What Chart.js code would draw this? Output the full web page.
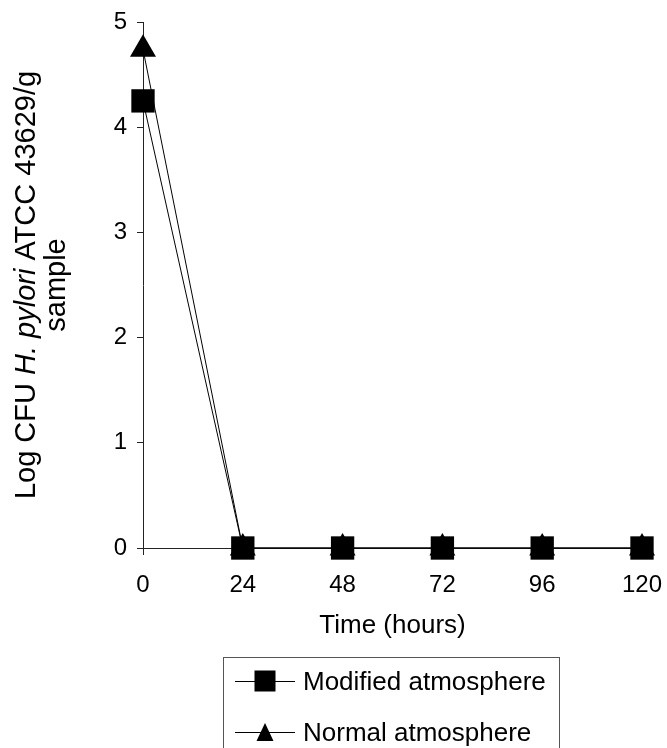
<!DOCTYPE html>
<html>
<head>
<meta charset="utf-8">
<script src="https://cdn.jsdelivr.net/npm/chart.js@4/dist/chart.umd.min.js"></script>
<style>
  html, body { margin: 0; padding: 0; background: #fff; }
  #wrap { position: relative; width: 667px; height: 748px; overflow: hidden; }
  #legendBox {
    position: absolute; left: 223px; top: 657px; width: 337px; height: 120px;
    border: 1px solid #555; box-sizing: border-box;
    font-family: "Liberation Sans", Arial, sans-serif; font-size: 26px; color: #000;
  }
  .row { position: absolute; left: 11px; height: 40px; display: flex; align-items: center; white-space: nowrap; }
  .row span { margin-left: 8px; }
</style>
</head>
<body>
<div id="wrap">
  <canvas id="myChart" width="667" height="748"></canvas>
  <div id="legendBox"></div>
</div>
<script>
'use strict';

// time points (hours) and the two series, log CFU/g
var hours = [0, 24, 48, 72, 96, 120];
var modified = [4.25, 0, 0, 0, 0, 0];
var normal = [4.74, 0, 0, 0, 0, 0];
var seriesNames = ['Modified atmosphere', 'Normal atmosphere'];
var yTicks = [0, 1, 2, 3, 4, 5];
var xTitle = 'Time (hours)';
// y title pieces: [text, italic?]
var yTitleLine1 = [['Log CFU ', false], ['H. pylori', true], [' ATCC 43629/g', false]];
var yTitleLine2 = 'sample';

var FONT = '"Liberation Sans", Arial, sans-serif';

function toPoints(xs, ys) {
	var pts = [];
	for (var i = 0; i < xs.length; i++) {
		pts.push({x: xs[i], y: ys[i]});
	}
	return pts;
}

// draw the rotated two-line y axis title (needs italic in the middle)
var yTitlePlugin = {
	id: 'yTitle',
	afterDraw: function(chart) {
		var ctx = chart.ctx;
		var midY = (chart.chartArea.top + chart.chartArea.bottom) / 2;
		ctx.save();
		ctx.fillStyle = '#000';
		ctx.textBaseline = 'middle';
		ctx.textAlign = 'left';
		// line 1
		ctx.save();
		ctx.translate(27, midY);
		ctx.rotate(-Math.PI / 2);
		var total = 0;
		yTitleLine1.forEach(function(p) {
			ctx.font = (p[1] ? 'italic ' : '') + '29px ' + FONT;
			total += ctx.measureText(p[0]).width;
		});
		var x = -total / 2;
		yTitleLine1.forEach(function(p) {
			ctx.font = (p[1] ? 'italic ' : '') + '29px ' + FONT;
			ctx.fillText(p[0], x, 0);
			x += ctx.measureText(p[0]).width;
		});
		ctx.restore();
		// line 2
		ctx.save();
		ctx.translate(57, midY);
		ctx.rotate(-Math.PI / 2);
		ctx.font = '29px ' + FONT;
		ctx.textAlign = 'center';
		ctx.fillText(yTitleLine2, 0, 0);
		ctx.restore();
		ctx.restore();
	}
};

var ctx = document.getElementById('myChart');
var myChart = new Chart(ctx, {
	type: 'line',
	data: {
		datasets: [{
			label: seriesNames[0],
			data: toPoints(hours, modified),
			borderColor: '#000',
			borderWidth: 1,
			backgroundColor: '#000',
			pointStyle: 'rect',
			pointRadius: 16.5,
			pointBorderWidth: 0,
			clip: false
		}, {
			label: seriesNames[1],
			data: toPoints(hours, normal),
			borderColor: '#000',
			borderWidth: 1,
			backgroundColor: '#000',
			pointStyle: 'triangle',
			pointRadius: 15,
			pointBorderWidth: 0,
			clip: false
		}]
	},
	options: {
		responsive: false,
		animation: false,
		layout: {padding: {left: 0, top: 22, right: 25, bottom: 107}},
		plugins: {
			legend: {display: false},
			tooltip: {enabled: false}
		},
		scales: {
			x: {
				type: 'linear',
				min: 0,
				max: 120,
				afterBuildTicks: function(scale) {
					scale.ticks = hours.map(function(v) { return {value: v}; });
				},
				afterFit: function(scale) {
					scale.height = 93;
					scale.paddingLeft = 0;
					scale.paddingRight = 0;
				},
				grid: {drawOnChartArea: false, color: '#222', tickLength: 7},
				border: {color: '#222', width: 1},
				ticks: {color: '#000', font: {family: FONT, size: 24}, padding: 16, maxRotation: 0},
				title: {display: true, text: xTitle, color: '#000', font: {family: FONT, size: 26}, padding: 0}
			},
			y: {
				min: 0,
				max: 5,
				afterBuildTicks: function(scale) {
					scale.ticks = yTicks.map(function(v) { return {value: v}; });
				},
				afterFit: function(scale) {
					scale.width = 143;
					scale.paddingTop = 0;
					scale.paddingBottom = 0;
				},
				grid: {drawOnChartArea: false, color: '#222', tickLength: 6},
				border: {color: '#222', width: 1},
				ticks: {color: '#000', font: {family: FONT, size: 24}, padding: 10}
			}
		}
	},
	plugins: [yTitlePlugin]
});

// legend box below the chart, line-marker-line like the original
var legendBox = document.getElementById('legendBox');
var icons = [
	'<rect x="19.5" y="9.5" width="21" height="21" fill="#000"/>',
	'<polygon points="30,11 38.5,29 21.5,29" fill="#000"/>'
];
var rowTops = [3, 54];
seriesNames.forEach(function(name, i) {
	var row = document.createElement('div');
	row.className = 'row';
	row.style.top = rowTops[i] + 'px';
	row.innerHTML = '<svg width="60" height="40"><line x1="0" y1="20.5" x2="60" y2="20.5" stroke="#000" stroke-width="1"/>' +
		icons[i] + '</svg><span>' + name + '</span>';
	legendBox.appendChild(row);
});
</script>
</body>
</html>
